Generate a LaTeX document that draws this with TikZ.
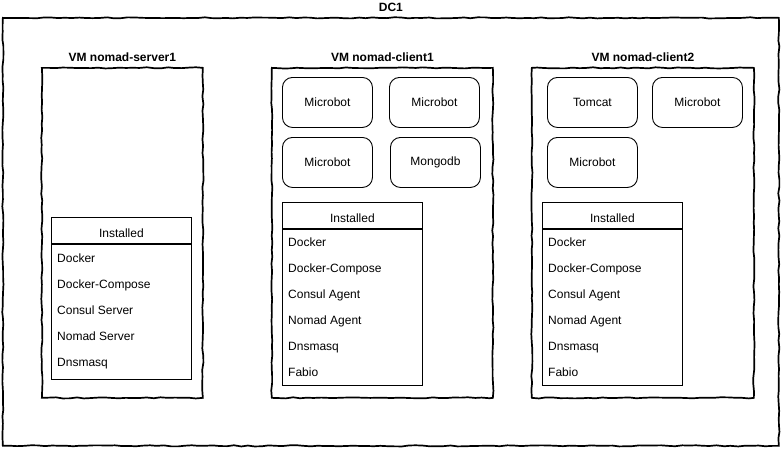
\documentclass[tikz,border=0pt]{standalone}
\usepackage{fontspec}
\setmainfont{Liberation Sans}
\usetikzlibrary{positioning,decorations.pathmorphing}

\tikzset{
  sketch/.style={draw, line width=1.7pt, inner sep=0pt, decorate,
    decoration={random steps, segment length=7pt, amplitude=0.6pt}},
  vm/.style={sketch, anchor=north west, minimum height=330},
  vmtitle/.style={font=\fontsize{12}{14}\selectfont\bfseries, inner sep=0pt},
  app/.style={draw, line width=0.9pt, rounded corners=10pt, anchor=north west,
    minimum width=90, minimum height=50},
  hdr/.style={draw, line width=0.8pt, anchor=north west, inner sep=0pt,
    minimum width=140, minimum height=26, text height=14pt, text depth=0pt},
  lst/.style={draw, line width=0.8pt, inner sep=0pt, minimum width=140},
  item/.style={anchor=base west, inner sep=0pt},
}

\begin{document}
\begin{tikzpicture}[x=1pt,y=-1pt,font=\fontsize{12}{14}\selectfont]
	\useasboundingbox (0,0) rectangle (782,448);
	\pgfmathsetseed{7}
	% data centre
	\node[sketch, anchor=north west, minimum width=776, minimum height=428] (dc) at (2,17) {};
	\node[vmtitle, above=5pt of dc] (dct) {DC1};
	
	% vms
	\node[vm, minimum width=161] (srv) at (41,67) {};
	\node[vmtitle, above=5pt of srv] (srvt) {VM nomad-server1};
	\node[vm, minimum width=221] (cl1) at (271,67) {};
	\node[vmtitle, above=5pt of cl1] (cl1t) {VM nomad-client1};
	\node[vm, minimum width=222] (cl2) at (531,67) {};
	\node[vmtitle, above=5pt of cl2] (cl2t) {VM nomad-client2};
	
	% jobs
	\node[app] (m1a) at (282,77) {Microbot};
	\node[app] (m1b) at (389,77) {Microbot};
	\node[app] (m1c) at (282,137) {Microbot};
	\node[app] (mongo) at (390,137) {Mongodb};
	\node[app] (tomcat) at (547,77) {Tomcat};
	\node[app] (m2a) at (652,77) {Microbot};
	\node[app] (m2b) at (547,137) {Microbot};
	
	% installed
	\node[hdr] (srvh) at (51,217) {Installed};
	\node[lst, minimum height=135, below=0pt of srvh] (srvl) {};
	\foreach \t [count=\i] in {Docker,Docker-Compose,Consul Server,Nomad Server,Dnsmasq}
		\node[item] (s\i) at (57,{236+26*\i}) {\t};
	
	\node[hdr] (cl1h) at (282,202) {Installed};
	\node[lst, minimum height=156, below=0pt of cl1h] (cl1l) {};
	\foreach \t [count=\i] in {Docker,Docker-Compose,Consul Agent,Nomad Agent,Dnsmasq,Fabio}
		\node[item] (a\i) at (288,{220+26*\i}) {\t};
	
	\node[hdr] (cl2h) at (542,202) {Installed};
	\node[lst, minimum height=156, below=0pt of cl2h] (cl2l) {};
	\foreach \t [count=\i] in {Docker,Docker-Compose,Consul Agent,Nomad Agent,Dnsmasq,Fabio}
		\node[item] (b\i) at (548,{220+26*\i}) {\t};
\end{tikzpicture}
\end{document}
